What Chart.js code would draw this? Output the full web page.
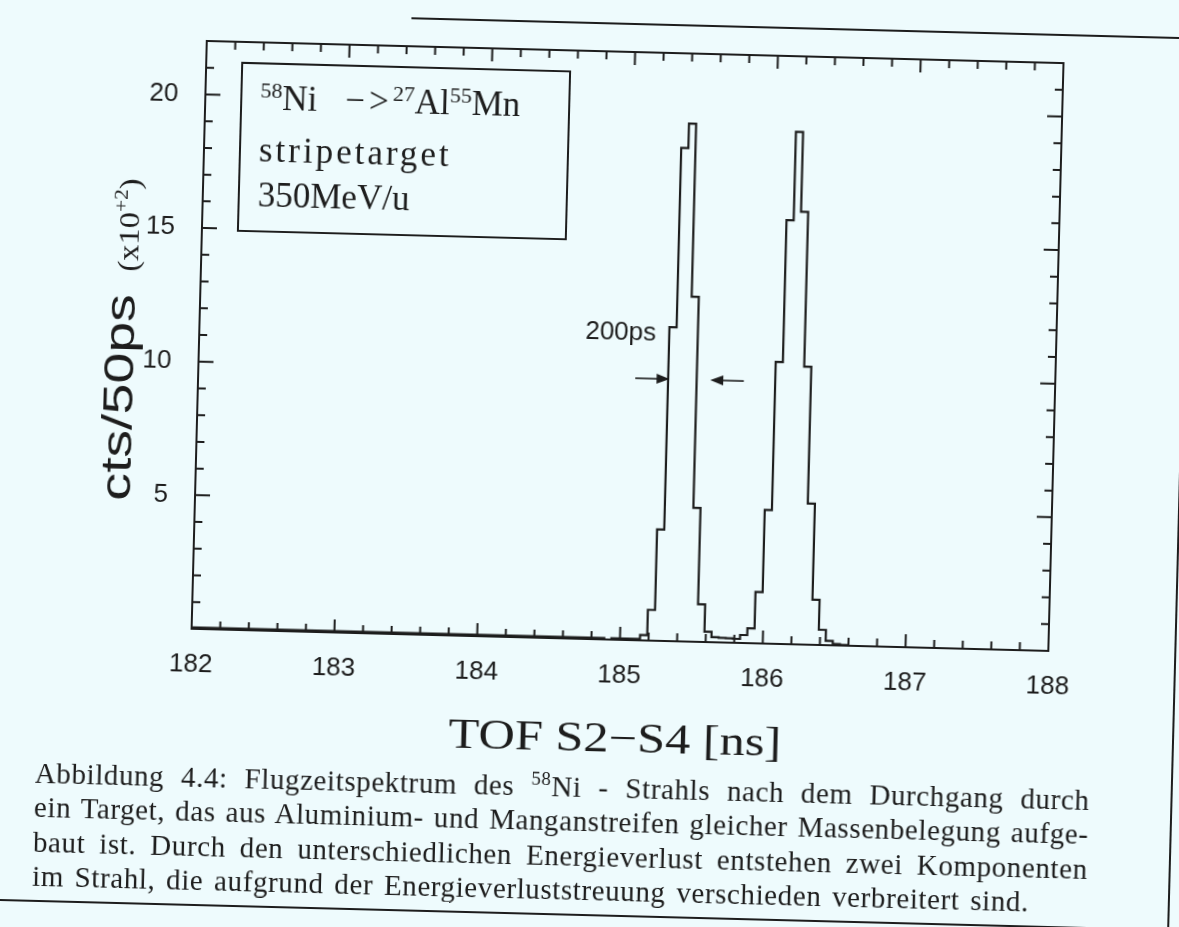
<!DOCTYPE html>
<html lang="de">
<head>
<meta charset="utf-8">
<title>Flugzeitspektrum 58Ni</title>
<script src="https://cdn.jsdelivr.net/npm/chart.js@4.4.1/dist/chart.umd.min.js"></script>
<style>
  html, body { margin: 0; padding: 0; background: #eefbfd; overflow: hidden; }
  #seite { position: absolute; left: 0; top: 0; width: 1179px; height: 927px;
           transform: rotate(1.48deg); transform-origin: 589.5px 463.5px; color: #1d1d1d; }
  #tof { position: absolute; left: 0; top: 0; }
  .abs { position: absolute; white-space: nowrap; }
  .serif { font-family: "Liberation Serif", serif; }
  .sans { font-family: "Liberation Sans", sans-serif; }
  .linie { position: absolute; border: 0 solid #1d1d1d; }
  #infobox { position: absolute; left: 231px; top: 71px; width: 330px; height: 170px;
             box-sizing: border-box; border: 2px solid #1d1d1d; }
  .boxzeile { font-size: 35px; line-height: 35px; left: 251px; }
  .boxzeile sup { font-size: 22px; line-height: 0; vertical-align: 12px; }
  .caption { font-size: 29px; line-height: 29px; left: 43px; letter-spacing: 0.6px;
             text-align: justify; text-align-last: justify; }
  .caption sup { font-size: 19px; line-height: 0; vertical-align: 11px; }
</style>
</head>
<body>
<div id="seite">
  <canvas id="tof" width="1179" height="927"></canvas>

  <div id="infobox"></div>
  <div class="abs serif boxzeile" style="top:89px"><sup>58</sup>Ni<span style="margin-left:28px; letter-spacing:4px">&minus;&gt;</span><sup>27</sup>Al<sup>55</sup>Mn</div>
  <div class="abs serif boxzeile" style="top:141px; letter-spacing:3px">stripetarget</div>
  <div class="abs serif boxzeile" style="top:186px">350MeV/u</div>

  <div class="abs sans" style="left:6px; top:388px; width:220px; height:43px; font-size:43px; line-height:43px; text-align:center; transform:rotate(-90deg) scaleX(1.29)">cts/50ps</div>
  <div class="abs serif" style="left:63px; top:222px; width:120px; height:30px; font-size:29px; line-height:30px; text-align:center; transform:rotate(-90deg) scaleX(1.12)">(x10<sup style="font-size:19px; line-height:0; vertical-align:12px">+2</sup>)</div>

  <div class="abs serif" style="left:322px; top:716px; width:600px; font-size:42px; line-height:42px; text-align:center; transform:scaleX(1.2)">TOF S2&minus;S4 [ns]</div>

  <div class="abs serif caption" style="top:773px; width:1055px">Abbildung 4.4: Flugzeitspektrum des <sup>58</sup>Ni - Strahls nach dem Durchgang durch</div>
  <div class="abs serif caption" style="top:807px; width:1055px">ein Target, das aus Aluminium- und Manganstreifen gleicher Massenbelegung aufge-</div>
  <div class="abs serif caption" style="top:842px; width:1055px">baut ist. Durch den unterschiedlichen Energieverlust entstehen zwei Komponenten</div>
  <div class="abs serif caption" style="top:876px; width:997px">im Strahl, die aufgrund der Energieverluststreuung verschieden verbreitert sind.</div>

  <div class="linie" style="left:400px; top:22px; width:820px; border-top-width:2px"></div>
  <div class="linie" style="left:1179px; top:22px; height:940px; border-left-width:2px"></div>
  <div class="linie" style="left:-40px; top:914px; width:1220px; border-top-width:2px"></div>
</div>

<script>
// 50 ps Kanaele: untere Kanalgrenze [ns] und Inhalt [x100 cts]
const kanalStart = [182.00, 184.89, 184.94, 185.14, 185.19, 185.24, 185.29, 185.34, 185.39,
                    185.44, 185.49, 185.54, 185.59, 185.64, 185.69, 185.74, 185.79, 185.84,
                    185.89, 185.94, 185.99, 186.04, 186.09, 186.14, 186.19, 186.24, 186.29,
                    186.34, 186.39, 186.44, 186.49, 186.54, 186.59, 186.64, 188.00];
const kanalInhalt = [0, 0.05, 0, 0.05, 0.2, 1.15, 4.17, 11.74, 18.46,
                     19.38, 12.9, 5.01, 1.41, 0.39, 0.19, 0.17, 0.16, 0.15,
                     0.3, 0.56, 1.92, 5.0, 10.55, 15.86, 19.17, 16.19, 10.4,
                     5.28, 1.69, 0.57, 0.16, 0.05, 0.02, 0, 0];

const xBeschriftung = [182, 183, 184, 185, 186, 187, 188];
const yBeschriftung = [5, 10, 15, 20];

// Halbwertsbreite des ersten Peaks
const fwhmHoehe = 9.8;
const fwhmLinks = [185.06, 185.30];
const fwhmRechts = [185.82, 185.585];
const fwhmText = '200ps';
const fwhmTextPos = [184.95, 11.5];

const tinte = '#1d1d1d';

const histo = kanalStart.map((x, i) => ({ x: x, y: kanalInhalt[i] }));

function pfeil(ctx, x0, x1, y) {
  const dir = Math.sign(x1 - x0);
  ctx.beginPath();
  ctx.moveTo(x0, y);
  ctx.lineTo(x1 - dir * 10, y);
  ctx.stroke();
  ctx.beginPath();
  ctx.moveTo(x1, y);
  ctx.lineTo(x1 - dir * 13, y - 5);
  ctx.lineTo(x1 - dir * 13, y + 5);
  ctx.closePath();
  ctx.fill();
}

const rahmenTicks = {
  id: 'rahmenTicks',
  afterDatasetsDraw(chart) {
    const { ctx, chartArea: a, scales: { x, y } } = chart;
    ctx.save();
    ctx.strokeStyle = tinte;
    ctx.fillStyle = tinte;
    ctx.lineWidth = 2;
    ctx.strokeRect(a.left, a.top, a.right - a.left, a.bottom - a.top);

    // Teilstriche nach innen, oben/unten und links/rechts
    ctx.beginPath();
    for (let i = 1; i < 30; i++) {
      const px = x.getPixelForValue(182 + i * 0.2);
      const l = i % 5 === 0 ? 13 : 8;
      ctx.moveTo(px, a.bottom); ctx.lineTo(px, a.bottom - l);
      ctx.moveTo(px, a.top); ctx.lineTo(px, a.top + l);
    }
    for (let v = 1; v < 22; v++) {
      const py = y.getPixelForValue(v);
      const l = v % 5 === 0 ? 15 : 8;
      ctx.moveTo(a.left, py); ctx.lineTo(a.left + l, py);
      ctx.moveTo(a.right, py); ctx.lineTo(a.right - l, py);
    }
    ctx.stroke();

    const py = y.getPixelForValue(fwhmHoehe);
    ctx.lineWidth = 1.6;
    pfeil(ctx, x.getPixelForValue(fwhmLinks[0]), x.getPixelForValue(fwhmLinks[1]), py);
    pfeil(ctx, x.getPixelForValue(fwhmRechts[0]), x.getPixelForValue(fwhmRechts[1]), py);

    ctx.font = '26px "Liberation Sans"';
    ctx.textAlign = 'center';
    ctx.textBaseline = 'middle';
    ctx.fillText(fwhmText, x.getPixelForValue(fwhmTextPos[0]), y.getPixelForValue(fwhmTextPos[1]));
    ctx.restore();
  }
};

new Chart(document.getElementById('tof'), {
  type: 'line',
  data: {
    datasets: [{
      data: histo,
      stepped: 'after',
      borderColor: tinte,
      borderWidth: 2.2,
      pointRadius: 0,
      fill: false
    }]
  },
  options: {
    responsive: false,
    animation: false,
    layout: { padding: { left: 0, top: 51, right: 126, bottom: 0 } },
    plugins: { legend: { display: false }, tooltip: { enabled: false } },
    scales: {
      x: {
        type: 'linear', min: 182, max: 188,
        afterBuildTicks: s => { s.ticks = xBeschriftung.map(v => ({ value: v })); },
        afterFit: s => { s.height = 288; },
        grid: { display: false, drawTicks: false },
        border: { display: false },
        ticks: { color: tinte, padding: 20, maxRotation: 0, autoSkip: false,
                 font: { family: 'Liberation Sans', size: 26 } }
      },
      y: {
        type: 'linear', min: 0, max: 22,
        afterBuildTicks: s => { s.ticks = yBeschriftung.map(v => ({ value: v })); },
        afterFit: s => { s.width = 196; },
        grid: { display: false, drawTicks: false },
        border: { display: false },
        ticks: { color: tinte, padding: 27,
                 font: { family: 'Liberation Sans', size: 26 } }
      }
    }
  },
  plugins: [rahmenTicks]
});
</script>
</body>
</html>
